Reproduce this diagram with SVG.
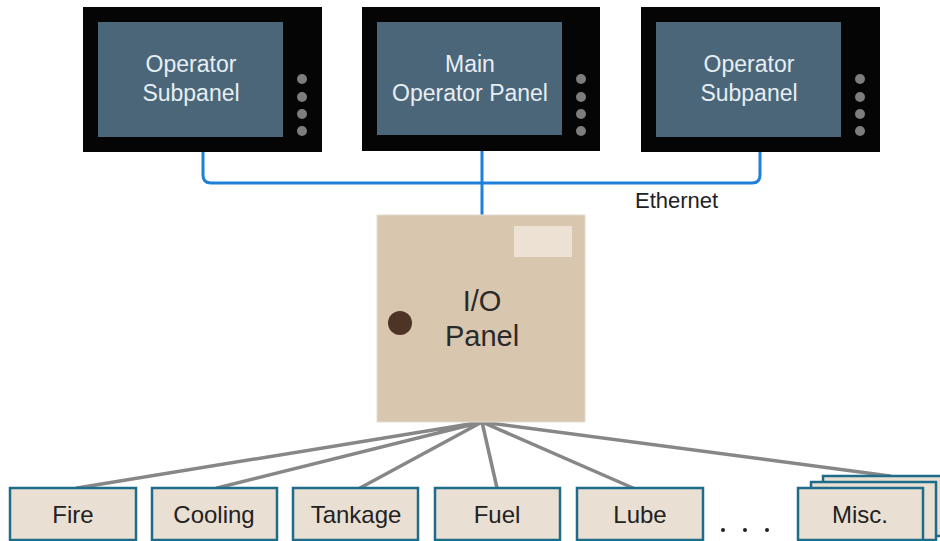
<svg xmlns="http://www.w3.org/2000/svg" width="940" height="541" viewBox="0 0 940 541">
<style>
.bezel{fill:#050505}
.screen{fill:#4B6679}
.btn{fill:#7d7d7d}
.st{font-family:"Liberation Sans",Arial,sans-serif;font-size:23px;fill:#E6EEF3;text-anchor:middle}
.eth{fill:none;stroke:#1F80DA;stroke-width:3}
.wire{fill:none;stroke:#878787;stroke-width:3.5;stroke-linecap:round}
.box{fill:#EADFD3;stroke:#1E6C8A;stroke-width:2.5}
.bt{font-family:"Liberation Sans",Arial,sans-serif;font-size:24px;fill:#222;text-anchor:middle}
</style>
<rect width="940" height="541" fill="#fff"/>
<g id="connectors">
<path class="eth" d="M203 152 V175 Q203 183 211 183 H752 Q760 183 760 175 V152"/>
<path class="eth" d="M482 151 V215"/>
<path class="wire" d="M482 422 L77 488 M482 422 L217 488 M482 422 L360 488 M482 422 L497 488 M482 422 L633 488 M482 422 L890 476"/>
</g>
<g id="sub1">
<rect class="bezel" x="83" y="7" width="239" height="145"/>
<rect class="screen" x="98" y="22" width="185" height="115"/>
<circle class="btn" cx="302" cy="79" r="5"/><circle class="btn" cx="302" cy="97" r="5"/><circle class="btn" cx="302" cy="114" r="5"/><circle class="btn" cx="302" cy="131" r="5"/>
<text class="st" x="191" y="72">Operator</text>
<text class="st" x="191" y="101">Subpanel</text>
</g>
<g id="main">
<rect class="bezel" x="362" y="7" width="238" height="144"/>
<rect class="screen" x="377" y="22" width="185" height="113"/>
<circle class="btn" cx="581" cy="79" r="5"/><circle class="btn" cx="581" cy="97" r="5"/><circle class="btn" cx="581" cy="114" r="5"/><circle class="btn" cx="581" cy="131" r="5"/>
<text class="st" x="470" y="72">Main</text>
<text class="st" x="470" y="101">Operator Panel</text>
</g>
<g id="sub2">
<rect class="bezel" x="641" y="7" width="239" height="145"/>
<rect class="screen" x="656" y="22" width="185" height="115"/>
<circle class="btn" cx="860" cy="79" r="5"/><circle class="btn" cx="860" cy="97" r="5"/><circle class="btn" cx="860" cy="114" r="5"/><circle class="btn" cx="860" cy="131" r="5"/>
<text class="st" x="749" y="72">Operator</text>
<text class="st" x="749" y="101">Subpanel</text>
</g>
<text x="635" y="208" font-family="Liberation Sans, Arial, sans-serif" font-size="22" fill="#222">Ethernet</text>
<g id="io">
<rect x="377" y="215" width="208" height="207" fill="#D9C6AE" stroke="#e4dcd2" stroke-width="1"/>
<rect x="514" y="226" width="58" height="31" fill="#ECE1D3"/>
<circle cx="400" cy="323" r="12" fill="#4C3526"/>
<text x="482" y="311" font-family="Liberation Sans, Arial, sans-serif" font-size="29" fill="#2a2a2a" text-anchor="middle">I/O</text>
<text x="482" y="346" font-family="Liberation Sans, Arial, sans-serif" font-size="29" fill="#2a2a2a" text-anchor="middle">Panel</text>
</g>
<g id="fire"><rect class="box" x="10" y="488" width="126" height="52"/><text class="bt" x="73" y="523">Fire</text></g>
<g id="cooling"><rect class="box" x="152" y="488" width="125" height="52"/><text class="bt" x="214" y="523">Cooling</text></g>
<g id="tankage"><rect class="box" x="293" y="488" width="125" height="52"/><text class="bt" x="356" y="523">Tankage</text></g>
<g id="fuel"><rect class="box" x="435" y="488" width="125" height="52"/><text class="bt" x="497" y="523">Fuel</text></g>
<g id="lube"><rect class="box" x="577" y="488" width="126" height="52"/><text class="bt" x="640" y="523">Lube</text></g>
<g id="dots" fill="#222"><circle cx="723" cy="530" r="2"/><circle cx="745" cy="530" r="2"/><circle cx="767" cy="530" r="2"/></g>
<g id="misc">
<rect class="box" x="823" y="476" width="125" height="60" fill="#DCE7EE"/>
<rect class="box" x="811" y="482" width="125" height="58" fill="#DCE7EE"/>
<rect class="box" x="798" y="488" width="125" height="52"/>
<text class="bt" x="860" y="523">Misc.</text>
</g>
</svg>
